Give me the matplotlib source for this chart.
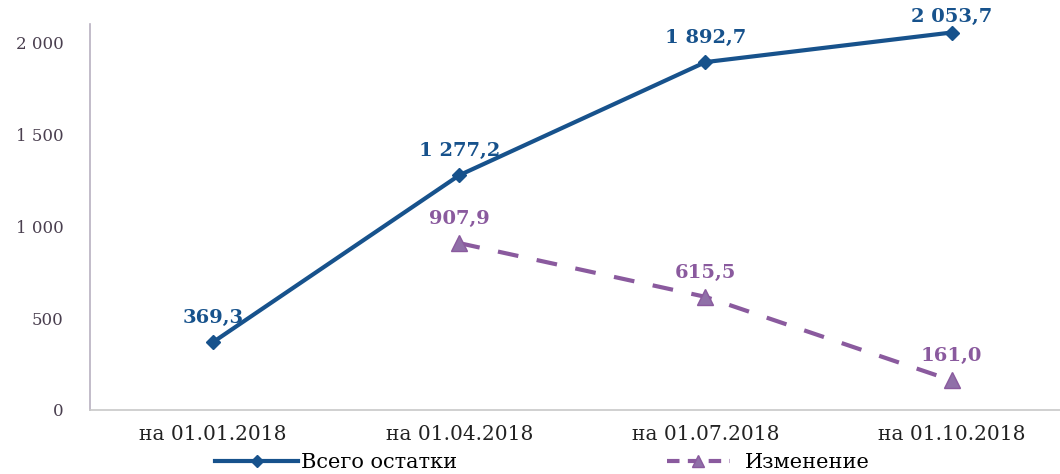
import matplotlib
matplotlib.use("Agg")
import matplotlib.pyplot as plt
from matplotlib.lines import Line2D

categories = ["на 01.01.2018", "на 01.04.2018", "на 01.07.2018", "на 01.10.2018"]
total = [369.3, 1277.2, 1892.7, 2053.7]
change_x = [1, 2, 3]
change = [907.9, 615.5, 161.0]
yticks = [0, 500, 1000, 1500, 2000]
yticklabels = ["0", "500", "1 000", "1 500", "2 000"]
total_label_offsets = [11, 11, 11, 5]

def fmt(v):
    s = f"{v:,.1f}".replace(",", " ").replace(".", ",")
    return s

blue = "#17528c"
purple = "#8a5a9e"

fig = plt.figure(figsize=(10.6, 4.74), dpi=100)
ax = fig.add_axes([90/1060, 1-410/474, 1-90/1060, (410-24)/474])

x = list(range(len(categories)))
ax.plot(x, total, color=blue, lw=3, marker="D", ms=7, mfc=blue, mec=blue, zorder=3)
ax.plot(change_x, change, color=purple, lw=3, ls=(0, (5, 4.5)), marker="^", ms=11,
        mfc="#9070a8", mec=purple, zorder=3)

for xi, v, off in zip(x, total, total_label_offsets):
    ax.annotate(fmt(v), (xi, v), xytext=(0, off), textcoords="offset points",
                ha="center", va="bottom", color=blue, fontsize=14,
                fontweight="bold", family="DejaVu Serif")
for xi, v in zip(change_x, change):
    ax.annotate(fmt(v), (xi, v), xytext=(0, 11), textcoords="offset points",
                ha="center", va="bottom", color=purple, fontsize=14,
                fontweight="bold", family="DejaVu Serif")

ax.set_xlim(-0.5, 3.44)
ax.set_ylim(0, 2100)
ax.set_yticks(yticks)
ax.set_yticklabels(yticklabels, family="DejaVu Serif", fontsize=12, color="#4a3f4f")
ax.set_xticks(x)
ax.set_xticklabels(categories, family="DejaVu Serif", fontsize=14.5, color="#222222")
ax.tick_params(axis="both", length=0)
ax.tick_params(axis="y", pad=19)
ax.tick_params(axis="x", pad=11)
for s in ["top", "right"]:
    ax.spines[s].set_visible(False)
ax.spines["left"].set_color("#b8b0c0")
ax.spines["bottom"].set_color("#c8c8c8")
ax.spines["left"].set_linewidth(1.2)
ax.spines["bottom"].set_linewidth(1.2)

h1 = Line2D([], [], color=blue, lw=3, marker="D", ms=6)
h2 = Line2D([], [], color=purple, lw=3, ls=(0, (3, 2)), marker="^", ms=9, mfc="#9070a8")
prop = {"family": "DejaVu Serif", "size": 15}
fig.legend([h1], ["Всего остатки"], loc="center left",
           bbox_to_anchor=(215/1060, 1-463/474), frameon=False, borderpad=0,
           borderaxespad=0, handlelength=4.0, handletextpad=0.15, prop=prop)
fig.legend([h2], ["Изменение"], loc="center left",
           bbox_to_anchor=(667/1060, 1-463/474), frameon=False, borderpad=0,
           borderaxespad=0, handlelength=3.0, handletextpad=0.75, prop=prop)

fig.savefig("out.png", dpi=100)
